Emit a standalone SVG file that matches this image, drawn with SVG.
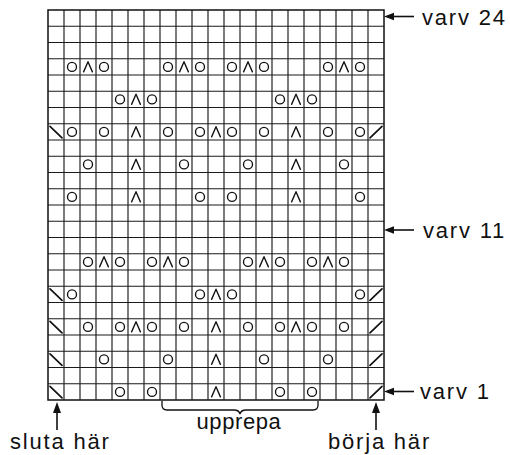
<svg xmlns="http://www.w3.org/2000/svg" width="510" height="455" viewBox="0 0 510 455">
<style>
  .grid{fill:none;stroke:#1a1a1a;stroke-width:1.15}
  .border{fill:none;stroke:#111;stroke-width:1.5}
  .sym{fill:none;stroke:#111;stroke-width:1.35;stroke-linecap:round;stroke-linejoin:round}
  .lbl{font-family:"Liberation Sans",Arial,sans-serif;font-size:22px;letter-spacing:1.8px;fill:#111}
  .ar{stroke:#111;stroke-width:1.6;fill:none}
  .hd{fill:#111;stroke:none}
</style>
<defs>
  <circle id="o" class="sym" cx="0" cy="0" r="4.5"/>
  <path id="k" class="sym" d="M-4.4,5 L0,-5.2 L4.4,5"/>
  <path id="b" class="sym" d="M-6,-5.5 L6,6" style="stroke-width:1.7"/>
  <path id="f" class="sym" d="M-6,6 L6,-5.5" style="stroke-width:1.7"/>
</defs>
<g id="chart-grid">
  <path class="grid" d="M64,10V400M80,10V400M96,10V400M112,10V400M128,10V400M144,10V400M160,10V400M176,10V400M192,10V400M208,10V400M224,10V400M240,10V400M256,10V400M272,10V400M288,10V400M304,10V400M320,10V400M336,10V400M352,10V400M368,10V400
  M48,26.25H384M48,42.5H384M48,58.75H384M48,75H384M48,91.25H384M48,107.5H384M48,123.75H384M48,140H384M48,156.25H384M48,172.5H384M48,188.75H384M48,205H384M48,221.25H384M48,237.5H384M48,253.75H384M48,270H384M48,286.25H384M48,302.5H384M48,318.75H384M48,335H384M48,351.25H384M48,367.5H384M48,383.75H384"/>
  <rect class="border" x="48" y="10" width="336" height="390"/>
</g>
<g id="row-22">
  <use href="#o" x="72" y="66.875"/><use href="#k" x="88" y="66.875"/><use href="#o" x="104" y="66.875"/>
  <use href="#o" x="168" y="66.875"/><use href="#k" x="184" y="66.875"/><use href="#o" x="200" y="66.875"/>
  <use href="#o" x="232" y="66.875"/><use href="#k" x="248" y="66.875"/><use href="#o" x="264" y="66.875"/>
  <use href="#o" x="328" y="66.875"/><use href="#k" x="344" y="66.875"/><use href="#o" x="360" y="66.875"/>
</g>
<g id="row-20">
  <use href="#o" x="120" y="99.375"/><use href="#k" x="136" y="99.375"/><use href="#o" x="152" y="99.375"/>
  <use href="#o" x="280" y="99.375"/><use href="#k" x="296" y="99.375"/><use href="#o" x="312" y="99.375"/>
</g>
<g id="row-18">
  <use href="#b" x="56" y="131.875"/><use href="#o" x="72" y="131.875"/><use href="#o" x="104" y="131.875"/>
  <use href="#k" x="136" y="131.875"/><use href="#o" x="168" y="131.875"/>
  <use href="#o" x="200" y="131.875"/><use href="#k" x="216" y="131.875"/><use href="#o" x="232" y="131.875"/>
  <use href="#o" x="264" y="131.875"/><use href="#k" x="296" y="131.875"/><use href="#o" x="328" y="131.875"/>
  <use href="#o" x="360" y="131.875"/><use href="#f" x="376" y="131.875"/>
</g>
<g id="row-16">
  <use href="#o" x="88" y="164.375"/><use href="#k" x="136" y="164.375"/><use href="#o" x="184" y="164.375"/>
  <use href="#o" x="248" y="164.375"/><use href="#k" x="296" y="164.375"/><use href="#o" x="344" y="164.375"/>
</g>
<g id="row-14">
  <use href="#o" x="72" y="196.875"/><use href="#k" x="136" y="196.875"/><use href="#o" x="200" y="196.875"/>
  <use href="#o" x="232" y="196.875"/><use href="#k" x="296" y="196.875"/><use href="#o" x="360" y="196.875"/>
</g>
<g id="row-10">
  <use href="#o" x="88" y="261.875"/><use href="#k" x="104" y="261.875"/><use href="#o" x="120" y="261.875"/>
  <use href="#o" x="152" y="261.875"/><use href="#k" x="168" y="261.875"/><use href="#o" x="184" y="261.875"/>
  <use href="#o" x="248" y="261.875"/><use href="#k" x="264" y="261.875"/><use href="#o" x="280" y="261.875"/>
  <use href="#o" x="312" y="261.875"/><use href="#k" x="328" y="261.875"/><use href="#o" x="344" y="261.875"/>
</g>
<g id="row-8">
  <use href="#b" x="56" y="294.375"/><use href="#o" x="72" y="294.375"/>
  <use href="#o" x="200" y="294.375"/><use href="#k" x="216" y="294.375"/><use href="#o" x="232" y="294.375"/>
  <use href="#o" x="360" y="294.375"/><use href="#f" x="376" y="294.375"/>
</g>
<g id="row-6">
  <use href="#b" x="56" y="326.875"/><use href="#o" x="88" y="326.875"/>
  <use href="#o" x="120" y="326.875"/><use href="#k" x="136" y="326.875"/><use href="#o" x="152" y="326.875"/>
  <use href="#o" x="184" y="326.875"/><use href="#k" x="216" y="326.875"/><use href="#o" x="248" y="326.875"/>
  <use href="#o" x="280" y="326.875"/><use href="#k" x="296" y="326.875"/><use href="#o" x="312" y="326.875"/>
  <use href="#o" x="344" y="326.875"/><use href="#f" x="376" y="326.875"/>
</g>
<g id="row-3">
  <use href="#b" x="56" y="359.375"/><use href="#o" x="104" y="359.375"/><use href="#o" x="168" y="359.375"/>
  <use href="#k" x="216" y="359.375"/><use href="#o" x="264" y="359.375"/><use href="#o" x="328" y="359.375"/>
  <use href="#f" x="376" y="359.375"/>
</g>
<g id="row-1">
  <use href="#b" x="56" y="391.875"/><use href="#o" x="120" y="391.875"/><use href="#o" x="152" y="391.875"/>
  <use href="#k" x="216" y="391.875"/><use href="#o" x="280" y="391.875"/><use href="#o" x="312" y="391.875"/>
  <use href="#f" x="376" y="391.875"/>
</g>
<g id="connectors">
  <path class="ar" d="M414,16.5H392"/><path class="hd" d="M384,16.5L394,12.8L394,20.2Z"/>
  <path class="ar" d="M414,230H392"/><path class="hd" d="M384,230L394,226.3L394,233.7Z"/>
  <path class="ar" d="M414,391.5H392"/><path class="hd" d="M384,391.5L394,387.8L394,395.2Z"/>
  <path class="ar" d="M57,430V410"/><path class="hd" d="M57,402L53,413L61,413Z"/>
  <path class="ar" d="M376,430V410"/><path class="hd" d="M376,402L372,413L380,413Z"/>
  <path class="ar" style="stroke-width:1.3" d="M162,401V405Q162,410 167,410H234Q239,410 240,414Q241,410 246,410H313Q318,410 318,405V401"/>
</g>
<g id="labels">
  <text class="lbl" x="422" y="25">varv 24</text>
  <text class="lbl" x="423" y="237.5">varv 11</text>
  <text class="lbl" x="420" y="398.5">varv 1</text>
  <text class="lbl" x="239" y="429" text-anchor="middle" style="letter-spacing:0.6px">upprepa</text>
  <text class="lbl" x="10" y="449">sluta här</text>
  <text class="lbl" x="328" y="449">börja här</text>
</g>
</svg>
